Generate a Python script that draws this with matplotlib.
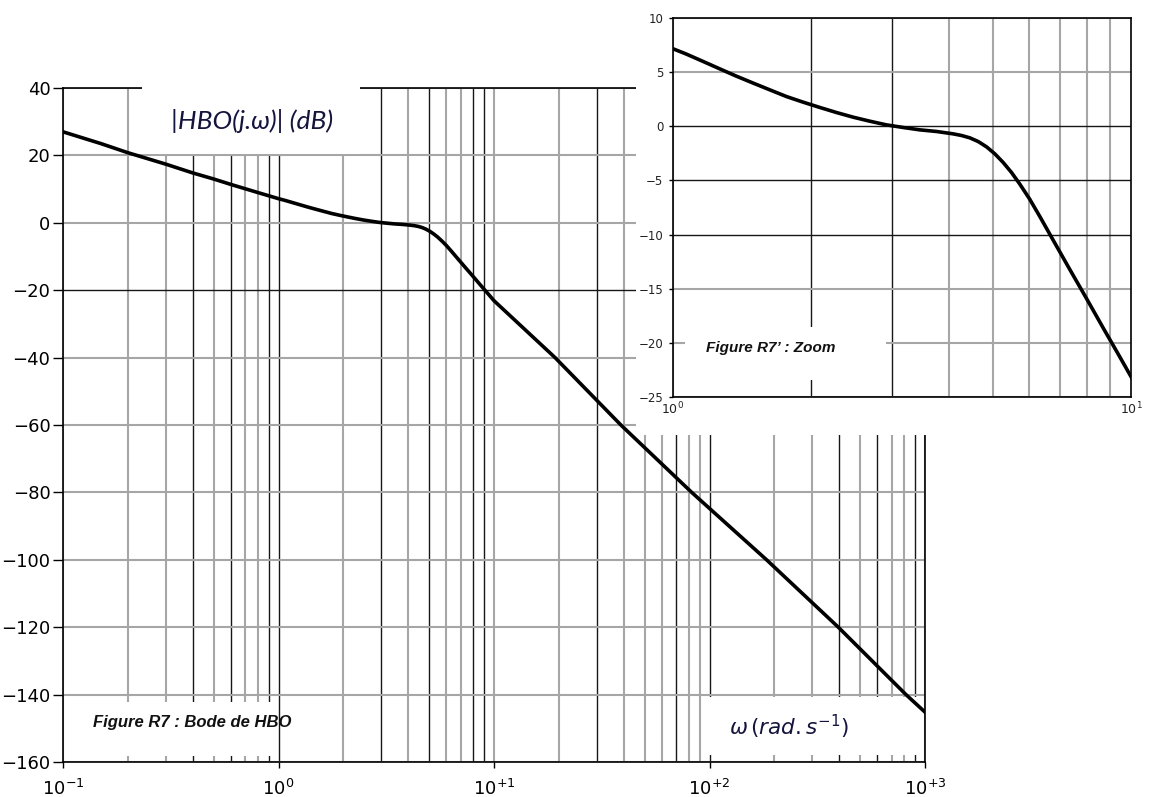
import matplotlib
matplotlib.use("Agg")
import matplotlib.pyplot as plt
from matplotlib.patches import Rectangle
from matplotlib.ticker import FixedLocator, LogLocator, NullFormatter

# values (omega in rad/s, gain in dB)
omega = [0.1, 0.15, 0.2, 0.3, 0.4, 0.5, 0.6, 0.8,
         1.0, 1.069, 1.163, 1.264, 1.375, 1.496, 1.626, 1.768, 1.923,
         2.092, 2.275, 2.474, 2.69, 2.925, 3.181, 3.459, 3.762, 4.091,
         4.266, 4.449, 4.639, 4.838, 5.045, 5.261, 5.487, 5.722, 6.005,
         6.327, 6.767, 7.358, 8.002, 8.702, 9.463, 10.0,
         19.2, 38.8, 82.7, 184.0, 396.0, 816.0, 1000.0]
gain_db = [27.0, 23.5, 20.8, 17.4, 14.8, 13.0, 11.4, 9.0,
           7.16, 6.67, 5.99, 5.31, 4.63, 3.99, 3.37, 2.75, 2.23,
           1.74, 1.27, 0.84, 0.47, 0.13, -0.11, -0.33, -0.48, -0.70,
           -0.85, -1.07, -1.41, -1.90, -2.55, -3.35, -4.28, -5.36, -6.71,
           -8.35, -10.54, -13.25, -15.93, -18.65, -21.33, -23.12,
           -40.0, -60.0, -80.0, -100.0, -120.0, -140.0, -145.2]

main_xticks = [0.1, 1, 10, 100, 1000]
main_xlabels = [r"$10^{-1}$", r"$10^{0}$", r"$10^{+1}$", r"$10^{+2}$", r"$10^{+3}$"]
main_yticks = [40, 20, 0, -20, -40, -60, -80, -100, -120, -140, -160]

zoom_xticks = [1, 10]
zoom_xlabels = [r"$10^{0}$", r"$10^{1}$"]
zoom_yticks = [10, 5, 0, -5, -10, -15, -20, -25]

# grid lines that come out black in the scan, the rest are grey
dark_x_main = [0.4, 0.6, 0.9, 1, 3, 5, 8, 9, 30, 70, 100, 400, 600, 900]
dark_y_main = [-20]
dark_x_zoom = [2, 3]
dark_y_zoom = [0, -5, -10]

GRAY = "#a6a6a6"
DARK = "#161616"

plt.rcParams["font.family"] = "DejaVu Sans"
plt.rcParams["mathtext.fontset"] = "dejavusans"

W, H = 1165, 797


def style_grid(axis, dark, which):
    if which == "minor":
        locs = axis.get_minorticklocs()
        ticks = axis.get_minor_ticks(len(locs))
    else:
        locs = axis.get_majorticklocs()
        ticks = axis.get_major_ticks(len(locs))
    for loc, tick in zip(locs, ticks):
        is_dark = any(abs(loc - d) < 1e-6 * max(1.0, abs(d)) for d in dark)
        tick.gridline.set_color(DARK if is_dark else GRAY)
        tick.gridline.set_linewidth(1.0 if is_dark else 1.5)


def white_box(ax, x0, y0, w, h):
    ax.add_patch(Rectangle((x0, y0), w, h, transform=ax.transAxes,
                           facecolor="white", edgecolor="none",
                           zorder=3, clip_on=False))


fig = plt.figure(figsize=(W / 100, H / 100), dpi=100)

# ---- main Bode plot ----
ax = fig.add_axes([63 / W, 1 - 762 / H, 862 / W, 674 / H], zorder=0)
ax.set_xscale("log")
ax.set_xlim(0.1, 1000)
ax.set_ylim(-160, 40)
ax.xaxis.set_major_locator(FixedLocator(main_xticks))
ax.set_xticklabels(main_xlabels)
ax.xaxis.set_minor_locator(LogLocator(base=10, subs=range(2, 10)))
ax.xaxis.set_minor_formatter(NullFormatter())
ax.set_yticks(main_yticks)

ax.grid(True, axis="x", which="both")
ax.grid(True, axis="y", which="major")
style_grid(ax.xaxis, dark_x_main, "major")
style_grid(ax.xaxis, dark_x_main, "minor")
style_grid(ax.yaxis, dark_y_main, "major")

ax.tick_params(axis="y", which="major", length=7, width=1, pad=2, labelsize=13)
ax.tick_params(axis="x", which="major", length=4, width=1, pad=8, labelsize=13)
ax.tick_params(axis="x", which="minor", length=0)
for sp in ax.spines.values():
    sp.set_linewidth(1.2)
    sp.set_color("black")

ax.plot(omega, gain_db, color="black", lw=2.6, zorder=5)

white_box(ax, 0.0917, 0.902, 0.2528, 0.13)
white_box(ax, 0.004, 0.009, 0.243, 0.08)
white_box(ax, 0.745, 0.0105, 0.2515, 0.0855)

ax.text(0.219, 0.951, "|HBO(j.ω)| (dB)", transform=ax.transAxes,
        ha="center", va="center", fontsize=19, fontstyle="italic",
        family="Lato", color="#14143c", zorder=4)
ax.text(0.1497, 0.058, "Figure R7 : Bode de HBO", transform=ax.transAxes,
        ha="center", va="center", fontsize=12, fontstyle="italic",
        fontweight="bold", family="Liberation Sans", color="#111111", zorder=4)
ax.text(0.842, 0.052, r"$\omega\,(rad.s^{-1})$", transform=ax.transAxes,
        ha="center", va="center", fontsize=15.5, color="#14143c", zorder=4)

# ---- zoom inset ----
fig.add_artist(Rectangle((636 / W, 1 - 435 / H), 1 - 636 / W, 435 / H,
                         transform=fig.transFigure, facecolor="white",
                         edgecolor="none", zorder=1))

axz = fig.add_axes([673 / W, 1 - 397 / H, 458 / W, 379 / H], zorder=2)
axz.set_facecolor("white")
axz.set_xscale("log")
axz.set_xlim(1, 10)
axz.set_ylim(-25, 10)
axz.xaxis.set_major_locator(FixedLocator(zoom_xticks))
axz.set_xticklabels(zoom_xlabels)
axz.xaxis.set_minor_locator(LogLocator(base=10, subs=range(2, 10)))
axz.xaxis.set_minor_formatter(NullFormatter())
axz.set_yticks(zoom_yticks)

axz.grid(True, axis="x", which="both")
axz.grid(True, axis="y", which="major")
style_grid(axz.xaxis, dark_x_zoom, "minor")
style_grid(axz.yaxis, dark_y_zoom, "major")

axz.tick_params(axis="y", which="major", length=3, width=1, pad=4,
                labelsize=8.5, labelcolor="#222222")
axz.tick_params(axis="x", which="major", length=0, pad=3, labelsize=9,
                labelcolor="#222222")
axz.tick_params(axis="x", which="minor", length=0)
for sp in axz.spines.values():
    sp.set_linewidth(1.2)
    sp.set_color("black")

axz.plot(omega, gain_db, color="black", lw=2.6, zorder=5)

white_box(axz, 0.026, 0.045, 0.44, 0.14)
axz.text(0.214, 0.129, "Figure R7’ : Zoom", transform=axz.transAxes,
         ha="center", va="center", fontsize=11, fontstyle="italic",
         fontweight="bold", family="Liberation Sans", color="#111111", zorder=4)

fig.savefig("out.png", dpi=100)
